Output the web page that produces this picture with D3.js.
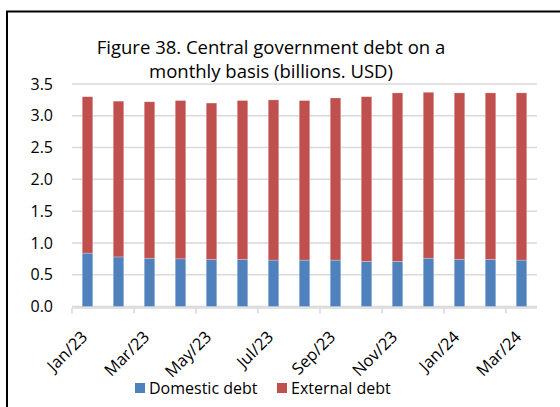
<!DOCTYPE html>
<html>
<head>
<meta charset="utf-8">
<script src="https://cdn.jsdelivr.net/npm/d3@7"></script>
<style>
  body { margin: 0; background: #fff; }
  text { font-family: "Open Sans", "Noto Sans", sans-serif; fill: #000; }
</style>
</head>
<body>
<div id="vis"></div>
<script>
// data (billions USD)
const months = ["Jan/23","Feb/23","Mar/23","Apr/23","May/23","Jun/23","Jul/23","Aug/23",
                "Sep/23","Oct/23","Nov/23","Dec/23","Jan/24","Feb/24","Mar/24"];
const totals   = [3.30, 3.23, 3.22, 3.24, 3.20, 3.24, 3.25, 3.24, 3.28, 3.30, 3.36, 3.37, 3.36, 3.36, 3.36];
const domestic = [0.84, 0.78, 0.76, 0.75, 0.74, 0.74, 0.73, 0.73, 0.73, 0.71, 0.71, 0.76, 0.74, 0.74, 0.73];
const external = totals.map((t, i) => +(t - domestic[i]).toFixed(2));
const yTicks = [0, 0.5, 1.0, 1.5, 2.0, 2.5, 3.0, 3.5];
const seriesNames = ["Domestic debt", "External debt"];
const colors = ["#4f81bd", "#c0504d"];

const W = 560, H = 407;
const margin = { top: 84, right: 23, bottom: 100, left: 72 };
const width = W - margin.left - margin.right;
const height = 306.5 - margin.top;

const root = d3.select("#vis").append("svg")
    .attr("width", W).attr("height", H);

// frame (top and left edges only visible)
root.append("line").attr("x1", 6).attr("x2", W).attr("y1", 11.5).attr("y2", 11.5)
    .attr("stroke", "#000").attr("stroke-width", 2);
root.append("line").attr("x1", 7).attr("x2", 7).attr("y1", 11).attr("y2", H)
    .attr("stroke", "#000").attr("stroke-width", 2);

// title
root.append("text").attr("x", 271).attr("y", 54).attr("text-anchor", "middle")
    .style("font-size", "18.5px").text("Figure 38. Central government debt on a");
root.append("text").attr("x", 271).attr("y", 78).attr("text-anchor", "middle")
    .style("font-size", "18.5px").text("monthly basis (billions. USD)");

const svg = root.append("g")
    .attr("transform", `translate(${margin.left}, ${margin.top})`);

const x = d3.scaleBand().domain(months).range([0, width]).paddingInner(0.66).paddingOuter(0.33);
const y = d3.scaleLinear().domain([0, 3.5]).range([height, 0]);

// gridlines
svg.append("g")
    .selectAll("line").data(yTicks).join("line")
    .attr("x1", 0).attr("x2", width)
    .attr("y1", d => y(d)).attr("y2", d => y(d))
    .attr("stroke", "#d9d9d9").attr("stroke-width", 1.5);

// y labels
svg.append("g")
    .call(d3.axisLeft(y).tickValues(yTicks).tickFormat(d3.format(".1f")).tickSize(0).tickPadding(19))
    .call(g => g.select(".domain").remove())
    .call(g => g.selectAll("text").style("font-size", "16px").style("font-family", "'Open Sans', sans-serif"));

// stacked bars
const rows = months.map((m, i) => ({ month: m, "Domestic debt": domestic[i], "External debt": external[i] }));
const stacked = d3.stack().keys(seriesNames)(rows);

svg.append("g")
    .selectAll("g").data(stacked).join("g")
    .attr("fill", (d, i) => colors[i])
    .selectAll("rect").data(d => d).join("rect")
    .attr("x", d => x(d.data.month))
    .attr("width", x.bandwidth())
    .attr("y", d => y(d[1]))
    .attr("height", d => y(d[0]) - y(d[1]))
    .attr("stroke", "#fff").attr("stroke-opacity", 0.4).attr("stroke-width", 0.6);

// x axis: ticks every two categories
const step = width / months.length;
const tickPos = d3.range(0, months.length + 1, 2).map(i => i * step);
const xa = svg.append("g").attr("transform", `translate(0, ${height + 1.5})`);
xa.append("line").attr("x1", 0).attr("x2", width).attr("stroke", "#d9d9d9").attr("stroke-width", 1.5);
xa.selectAll("line.tick").data(tickPos).join("line").attr("class", "tick")
    .attr("x1", d => d).attr("x2", d => d).attr("y1", 0).attr("y2", 5.5)
    .attr("stroke", "#d9d9d9").attr("stroke-width", 1.5);

xa.selectAll("text").data(months.filter((m, i) => i % 2 === 0)).join("text")
    .attr("text-anchor", "end")
    .attr("transform", d => `translate(${x(d) + x.bandwidth() / 2 + 1}, 30) rotate(-45)`)
    .style("font-size", "16.5px")
    .text(d => d);

// legend
const legend = root.append("g").attr("transform", "translate(135, 383)");
const items = [{ name: seriesNames[0], x: 0 }, { name: seriesNames[1], x: 142 }];
items.forEach((it, i) => {
    legend.append("rect").attr("x", it.x).attr("y", 0).attr("width", 10).attr("height", 10).attr("fill", colors[i]);
    legend.append("text").attr("x", it.x + 14).attr("y", 10.5).style("font-size", "16px").text(it.name);
});
</script>
</body>
</html>
